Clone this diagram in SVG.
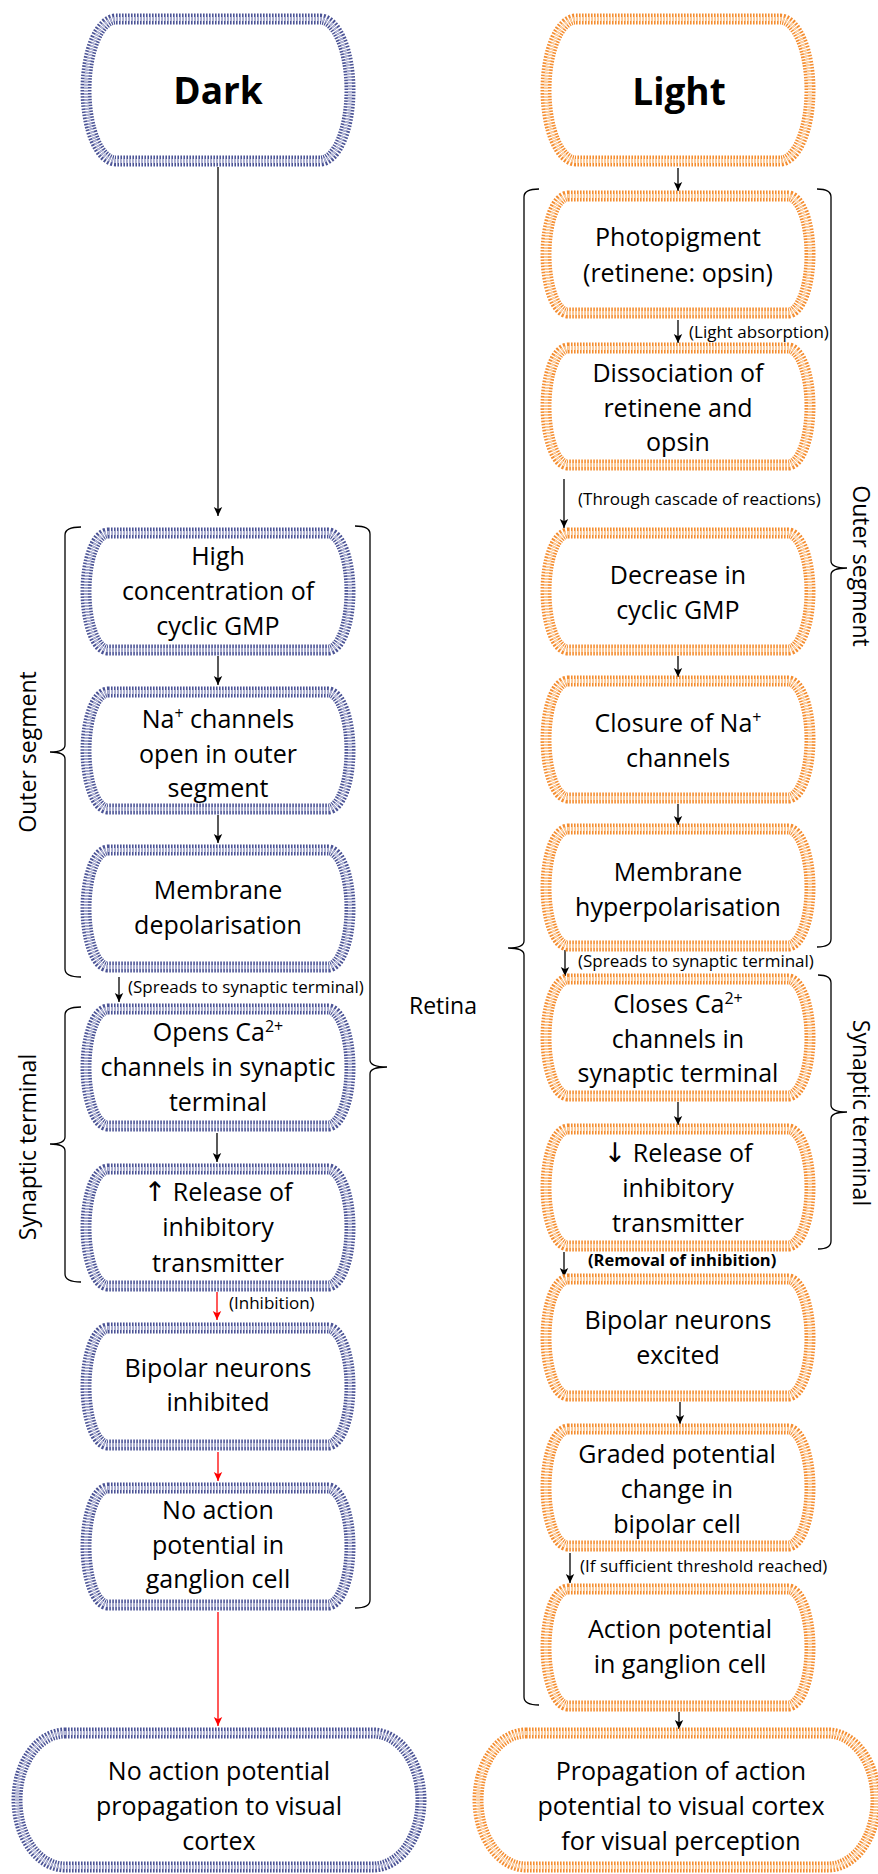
<svg xmlns="http://www.w3.org/2000/svg" xmlns:xlink="http://www.w3.org/1999/xlink" width="878" height="1874" viewBox="0 0 878 1874">
<style>
text{font-family:"Open Sans","Liberation Sans","DejaVu Sans",sans-serif;fill:#000}
.t{font-size:25px;text-anchor:middle}
.title{font-size:37px;font-weight:bold;text-anchor:middle}
.lbl{font-size:17px;text-anchor:start}
.bl{font-weight:bold;font-size:16.5px}
.side{font-size:23px;text-anchor:middle}
.sup{font-size:16px}
.arr{font-family:"DejaVu Sans",sans-serif;font-size:27px}
.b1{fill:#fff;stroke:#4b5395;stroke-width:11;stroke-dasharray:1.6 1.4}
.b2{fill:none;stroke:#b3b6d6;stroke-width:4;stroke-dasharray:1.6 1.4}
.o1{fill:#fff;stroke:#f48d30;stroke-width:11;stroke-dasharray:1.6 1.4}
.o2{fill:none;stroke:#fcd0a3;stroke-width:4;stroke-dasharray:1.6 1.4}
.con line{stroke:#000;stroke-width:1.3;marker-end:url(#ah)}
.con line.red{stroke:#ff0000;marker-end:url(#ahr)}
.brace{stroke:#000;stroke-width:1.3;fill:none}
</style>
<defs>
<marker id="ah" markerUnits="userSpaceOnUse" markerWidth="10" markerHeight="10" refX="9" refY="5" orient="auto"><path d="M0,0.8 L9,5 L0,9.2 L2.2,5 Z" fill="#000"/></marker>
<marker id="ahr" markerUnits="userSpaceOnUse" markerWidth="10" markerHeight="10" refX="9" refY="5" orient="auto"><path d="M0,0.8 L9,5 L0,9.2 L2.2,5 Z" fill="#ff0000"/></marker>
<path id="cell" d="M28,6 H248 C260.2,6 270,32.2 270,64.5 C270,96.8 260.2,123 248,123 H28 C15.8,123 6,96.8 6,64.5 C6,32.2 15.8,6 28,6 Z"/>
<path id="big" d="M36,6 H240 C256.6,6 270,37.8 270,77 C270,116.2 256.6,148 240,148 H36 C19.4,148 6,116.2 6,77 C6,37.8 19.4,6 36,6 Z"/>
<path id="endL" d="M54,6 H362 C388.5,6 410,36 410,73 C410,110 388.5,140 362,140 H54 C27.5,140 6,110 6,73 C6,36 27.5,6 54,6 Z"/>
<path id="endR" d="M54,6 H356 C382.5,6 404,36 404,73 C404,110 382.5,140 356,140 H54 C27.5,140 6,110 6,73 C6,36 27.5,6 54,6 Z"/>
</defs>
<rect width="878" height="1874" fill="#fff"/>

<!-- braces and side labels -->
<g id="braces">
<path class="brace" d="M81,527 Q65,527 65,535 V745 Q65,752 50,752 Q65,752 65,759 V969 Q65,977 81,977"/>
<path class="brace" d="M81,1007 Q65,1007 65,1015 V1137 Q65,1144 50,1144 Q65,1144 65,1151 V1274 Q65,1282 81,1282"/>
<path class="brace" d="M355,526 Q370,526 370,534 V1060 Q370,1067 387,1067 Q370,1067 370,1074 V1600 Q370,1608 355,1608"/>
<path class="brace" d="M539,189 Q524,189 524,197 V941 Q524,948 508,948 Q524,948 524,955 V1697 Q524,1705 539,1705"/>
<path class="brace" d="M817,189 Q831,189 831,197 V561 Q831,568 847,568 Q831,568 831,575 V939 Q831,947 817,947"/>
<path class="brace" d="M818,975 Q831,975 831,983 V1105 Q831,1112 847,1112 Q831,1112 831,1119 V1241 Q831,1249 818,1249"/>
<text class="side" transform="translate(36,752) rotate(-90)">Outer segment</text>
<text class="side" transform="translate(36,1147) rotate(-90)">Synaptic terminal</text>
<text class="side" transform="translate(853,566) rotate(90)">Outer segment</text>
<text class="side" transform="translate(853,1113) rotate(90)">Synaptic terminal</text>
<text class="side" x="443" y="1014">Retina</text>
</g>

<!-- connectors -->
<g id="connectors" class="con">
<line x1="218" y1="167" x2="218" y2="516"/>
<line x1="218" y1="656" x2="218" y2="685"/>
<line x1="218" y1="815" x2="218" y2="843"/>
<line x1="119" y1="977" x2="119" y2="1002"/>
<line x1="217" y1="1133" x2="217" y2="1162"/>
<line class="red" x1="217" y1="1292" x2="217" y2="1320"/>
<line class="red" x1="218" y1="1452" x2="218" y2="1481"/>
<line class="red" x1="218" y1="1612" x2="218" y2="1726"/>
<line x1="678" y1="168" x2="678" y2="191"/>
<line x1="678" y1="320" x2="678" y2="343"/>
<line x1="564" y1="479" x2="564" y2="528"/>
<line x1="678" y1="656" x2="678" y2="677"/>
<line x1="678" y1="804" x2="678" y2="825"/>
<line x1="565" y1="950" x2="565" y2="976"/>
<line x1="678" y1="1102" x2="678" y2="1125"/>
<line x1="564" y1="1252" x2="564" y2="1277"/>
<line x1="680" y1="1402" x2="680" y2="1424"/>
<line x1="570" y1="1553" x2="570" y2="1583"/>
<line x1="679" y1="1712" x2="679" y2="1729"/>
<text class="lbl" x="128" y="993">(Spreads to synaptic terminal)</text>
<text class="lbl" x="229" y="1309">(Inhibition)</text>
<text class="lbl" x="689" y="338">(Light absorption)</text>
<text class="lbl" x="578" y="505">(Through cascade of reactions)</text>
<text class="lbl" x="578" y="967">(Spreads to synaptic terminal)</text>
<text class="lbl bl" x="588" y="1266">(Removal of inhibition)</text>
<text class="lbl" x="580" y="1572">(If sufficient threshold reached)</text>
</g>

<!-- Dark column -->
<g id="dark" transform="translate(80,13)"><use href="#big" class="b1"/><use href="#big" class="b2"/></g>
<text class="title" x="218" y="104">Dark</text>
<g id="high-cgmp" transform="translate(80,527)"><use href="#cell" class="b1"/><use href="#cell" class="b2"/>
<text class="t" x="138" y="38">High</text><text class="t" x="138" y="73">concentration of</text><text class="t" x="138" y="108">cyclic GMP</text></g>
<g id="na-open" transform="translate(80,686)"><use href="#cell" class="b1"/><use href="#cell" class="b2"/>
<text class="t" x="138" y="42">Na<tspan class="sup" dy="-9">+</tspan><tspan dy="9"> channels</tspan></text><text class="t" x="138" y="77">open in outer</text><text class="t" x="138" y="111">segment</text></g>
<g id="depol" transform="translate(80,844)"><use href="#cell" class="b1"/><use href="#cell" class="b2"/>
<text class="t" x="138" y="55">Membrane</text><text class="t" x="138" y="90">depolarisation</text></g>
<g id="ca-open" transform="translate(80,1003)"><use href="#cell" class="b1"/><use href="#cell" class="b2"/>
<text class="t" x="138" y="38">Opens Ca<tspan class="sup" dy="-9">2+</tspan></text><text class="t" x="138" y="73">channels in synaptic</text><text class="t" x="138" y="108">terminal</text></g>
<g id="release-up" transform="translate(80,1163)"><use href="#cell" class="b1"/><use href="#cell" class="b2"/>
<text class="t" x="138" y="38"><tspan class="arr">↑</tspan> Release of</text><text class="t" x="138" y="73">inhibitory</text><text class="t" x="138" y="109">transmitter</text></g>
<g id="bipolar-inh" transform="translate(80,1322)"><use href="#cell" class="b1"/><use href="#cell" class="b2"/>
<text class="t" x="138" y="55">Bipolar neurons</text><text class="t" x="138" y="89">inhibited</text></g>
<g id="no-ap" transform="translate(80,1482)"><use href="#cell" class="b1"/><use href="#cell" class="b2"/>
<text class="t" x="138" y="37">No action</text><text class="t" x="138" y="72">potential in</text><text class="t" x="138" y="106">ganglion cell</text></g>
<g id="no-prop" transform="translate(11,1727)"><use href="#endL" class="b1"/><use href="#endL" class="b2"/>
<text class="t" x="208" y="53">No action potential</text><text class="t" x="208" y="88">propagation to visual</text><text class="t" x="208" y="123">cortex</text></g>

<!-- Light column -->
<g id="light" transform="translate(540,13)"><use href="#big" class="o1"/><use href="#big" class="o2"/></g>
<text class="title" x="679" y="105">Light</text>
<g id="photopigment" transform="translate(540,190)"><use href="#cell" class="o1"/><use href="#cell" class="o2"/>
<text class="t" x="138" y="56">Photopigment</text><text class="t" x="138" y="92">(retinene: opsin)</text></g>
<g id="dissociation" transform="translate(540,342)"><use href="#cell" class="o1"/><use href="#cell" class="o2"/>
<text class="t" x="138" y="40">Dissociation of</text><text class="t" x="138" y="75">retinene and</text><text class="t" x="138" y="109">opsin</text></g>
<g id="decrease" transform="translate(540,527)"><use href="#cell" class="o1"/><use href="#cell" class="o2"/>
<text class="t" x="138" y="57">Decrease in</text><text class="t" x="138" y="92">cyclic GMP</text></g>
<g id="na-close" transform="translate(540,675)"><use href="#cell" class="o1"/><use href="#cell" class="o2"/>
<text class="t" x="138" y="57">Closure of Na<tspan class="sup" dy="-9">+</tspan></text><text class="t" x="138" y="92">channels</text></g>
<g id="hyperpol" transform="translate(540,823)"><use href="#cell" class="o1"/><use href="#cell" class="o2"/>
<text class="t" x="138" y="58">Membrane</text><text class="t" x="138" y="93">hyperpolarisation</text></g>
<g id="ca-close" transform="translate(540,973)"><use href="#cell" class="o1"/><use href="#cell" class="o2"/>
<text class="t" x="138" y="40">Closes Ca<tspan class="sup" dy="-9">2+</tspan></text><text class="t" x="138" y="75">channels in</text><text class="t" x="138" y="109">synaptic terminal</text></g>
<g id="release-down" transform="translate(540,1123)"><use href="#cell" class="o1"/><use href="#cell" class="o2"/>
<text class="t" x="138" y="39"><tspan class="arr">↓</tspan> Release of</text><text class="t" x="138" y="74">inhibitory</text><text class="t" x="138" y="109">transmitter</text></g>
<g id="bipolar-exc" transform="translate(540,1273)"><use href="#cell" class="o1"/><use href="#cell" class="o2"/>
<text class="t" x="138" y="56">Bipolar neurons</text><text class="t" x="138" y="91">excited</text></g>
<g id="graded" transform="translate(540,1423)"><use href="#cell" class="o1"/><use href="#cell" class="o2"/>
<text class="t" x="137" y="40">Graded potential</text><text class="t" x="137" y="75">change in</text><text class="t" x="137" y="110">bipolar cell</text></g>
<g id="ap-ganglion" transform="translate(540,1583)"><use href="#cell" class="o1"/><use href="#cell" class="o2"/>
<text class="t" x="140" y="55">Action potential</text><text class="t" x="140" y="90">in ganglion cell</text></g>
<g id="prop" transform="translate(472,1727)"><use href="#endR" class="o1"/><use href="#endR" class="o2"/>
<text class="t" x="209" y="53">Propagation of action</text><text class="t" x="209" y="88">potential to visual cortex</text><text class="t" x="209" y="123">for visual perception</text></g>
</svg>
